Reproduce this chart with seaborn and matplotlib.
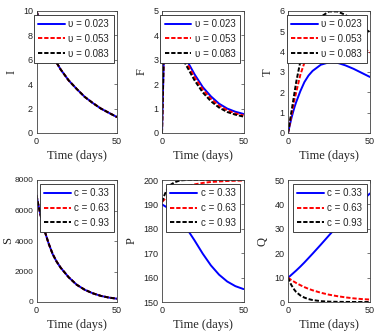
import numpy as np
import pandas as pd
import matplotlib
matplotlib.use("Agg")
import matplotlib.pyplot as plt
import seaborn as sns

# ---------------- data ----------------
t = [0, 1, 2, 3, 4, 5, 7.5, 10, 12.5, 15, 20, 25, 30, 35, 40, 45, 50]

upsilon_labels = ["\u03c5 = 0.023", "\u03c5 = 0.053", "\u03c5 = 0.083"]
c_labels = ["c = 0.33", "c = 0.63", "c = 0.93"]

I_blue = [10, 9.55, 9.1, 8.7, 8.3, 7.95, 7.1, 6.4, 5.75, 5.2, 4.3, 3.6, 2.95, 2.45, 2.0, 1.65, 1.3]
I_red = [10, 9.55, 9.1, 8.7, 8.3, 7.95, 7.1, 6.4, 5.75, 5.2, 4.3, 3.6, 2.95, 2.45, 2.0, 1.65, 1.3]
I_black = [10, 9.55, 9.1, 8.7, 8.3, 7.95, 7.1, 6.4, 5.75, 5.2, 4.3, 3.6, 2.95, 2.45, 2.0, 1.65, 1.3]

F_blue = [0, 2.8, 4.1, 4.45, 4.45, 4.35, 4.0, 3.65, 3.3, 3.0, 2.4, 1.88, 1.5, 1.2, 1.0, 0.87, 0.78]
F_red = [0, 2.9, 4.2, 4.45, 4.4, 4.3, 3.9, 3.55, 3.2, 2.88, 2.28, 1.78, 1.4, 1.12, 0.93, 0.8, 0.72]
F_black = [0, 3.0, 4.3, 4.45, 4.35, 4.2, 3.8, 3.42, 3.07, 2.75, 2.15, 1.66, 1.3, 1.04, 0.86, 0.75, 0.67]

T_blue = [0, 0.35, 0.7, 1.0, 1.28, 1.52, 2.05, 2.5, 2.82, 3.05, 3.35, 3.47, 3.45, 3.32, 3.15, 2.95, 2.75]
T_red = [0, 0.42, 0.85, 1.25, 1.65, 2.0, 2.85, 3.45, 3.9, 4.2, 4.6, 4.8, 4.82, 4.7, 4.5, 4.25, 3.95]
T_black = [0, 0.5, 1.0, 1.5, 2.0, 2.5, 3.5, 4.2, 4.75, 5.15, 5.7, 5.97, 5.97, 5.8, 5.5, 5.2, 4.95]

S_blue = [7000, 6450, 5950, 5480, 5050, 4680, 3850, 3150, 2650, 2250, 1620, 1130, 800, 570, 400, 290, 215]
S_red = [7000, 6450, 5950, 5480, 5050, 4680, 3850, 3150, 2650, 2250, 1620, 1130, 800, 570, 400, 290, 215]
S_black = [7000, 6450, 5950, 5480, 5050, 4680, 3850, 3150, 2650, 2250, 1620, 1130, 800, 570, 400, 290, 215]

P_blue = [190, 189.6, 189.2, 188.8, 188.3, 187.8, 186.3, 184.5, 182.5, 180.3, 175.2, 169.8, 165.0, 161.2, 158.4, 156.5, 155.3]
P_red = [191, 191.7, 192.3, 192.9, 193.4, 193.9, 195.0, 195.9, 196.7, 197.3, 198.2, 198.8, 199.2, 199.4, 199.6, 199.7, 199.8]
P_black = [191, 193, 194.6, 195.9, 197, 197.9, 199, 199.6, 199.9, 200, 200, 200, 200, 200, 200, 200, 200]

Q_blue = [10, 10.5, 11.1, 11.7, 12.3, 12.9, 14.5, 16.2, 18.0, 19.8, 23.5, 27.3, 31.0, 34.7, 38.2, 41.5, 44.5]
Q_red = [10, 9.5, 9.0, 8.6, 8.2, 7.8, 6.9, 6.1, 5.4, 4.8, 3.8, 3.0, 2.4, 1.9, 1.5, 1.2, 1.0]
Q_black = [10, 8.4, 7.0, 5.9, 4.9, 4.1, 2.7, 1.8, 1.2, 0.8, 0.35, 0.15, 0.07, 0.03, 0.01, 0.0, 0.0]

# ---------------- style ----------------
sns.set_theme(style="white")
plt.rcParams["font.family"] = ["Liberation Sans", "DejaVu Sans"]
plt.rcParams["axes.edgecolor"] = "#404040"
plt.rcParams["axes.linewidth"] = 0.6

W, H = 375, 334
fig = plt.figure(figsize=(W / 100, H / 100), dpi=100)

cols = [(36.5, 117.0), (162.0, 243.5), (288.0, 370.0)]
rows = [(10.8, 133.0), (180.0, 302.0)]

panels = [
    ("I", [I_blue, I_red, I_black], upsilon_labels, (0, 10), [0, 2, 4, 6, 8, 10]),
    ("F", [F_blue, F_red, F_black], upsilon_labels, (0, 5), [0, 1, 2, 3, 4, 5]),
    ("T", [T_blue, T_red, T_black], upsilon_labels, (0, 6), [0, 1, 2, 3, 4, 5, 6]),
    ("S", [S_blue, S_red, S_black], c_labels, (0, 8000), [0, 2000, 4000, 6000, 8000]),
    ("P", [P_blue, P_red, P_black], c_labels, (150, 200), [150, 160, 170, 180, 190, 200]),
    ("Q", [Q_blue, Q_red, Q_black], c_labels, (0, 50), [0, 10, 20, 30, 40, 50]),
]

colors = ["#0000FF", "#FF0000", "#000000"]
styles = ["-", (0, (2.2, 1.0)), (0, (2.2, 1.0))]

for idx, (name, series, labels, ylim, yticks) in enumerate(panels):
    r, c = divmod(idx, 3)
    x0, x1 = cols[c]
    top, bot = rows[r]
    ax = fig.add_axes([x0 / W, 1 - bot / H, (x1 - x0) / W, (bot - top) / H])
    for vals, lab, col, ls in zip(series, labels, colors, styles):
        df = pd.DataFrame({"t": t, "v": vals})
        sns.lineplot(data=df, x="t", y="v", ax=ax, color=col, linestyle=ls,
                     linewidth=1.4, label=lab, estimator=None, sort=False)
    ax.set_xlim(0, 50)
    ax.set_ylim(*ylim)
    ax.set_xticks([0, 50])
    ax.set_yticks(yticks)
    ax.tick_params(direction="in", length=2.5, width=0.5, top=True, right=True,
                   labelsize=6.5, pad=3, colors="#404040", labelcolor="#222222")
    ax.tick_params(axis="y", pad=2.5)
    if name == "S":
        ax.tick_params(axis="y", labelsize=6.0, pad=2.3)
    ax.set_xlabel("Time (days)", family=["Liberation Serif"], fontsize=9, labelpad=3)
    ax.set_ylabel(name, family=["Liberation Serif"], fontsize=9,
                  labelpad=0.4 if name == "S" else 4)
    for s in ax.spines.values():
        s.set_visible(True)
    w_px = x1 - x0
    h_px = bot - top
    leg = ax.legend(loc="upper right",
                    bbox_to_anchor=(1 - 3.5 / w_px, 1 - 4.0 / h_px),
                    borderaxespad=0, fontsize=7, frameon=True, fancybox=False,
                    framealpha=1, edgecolor="#222222", borderpad=0.45,
                    handlelength=2.75, handletextpad=0.35, labelspacing=0.48)
    leg.get_frame().set_linewidth(0.6)

fig.savefig("out.png", dpi=100)
